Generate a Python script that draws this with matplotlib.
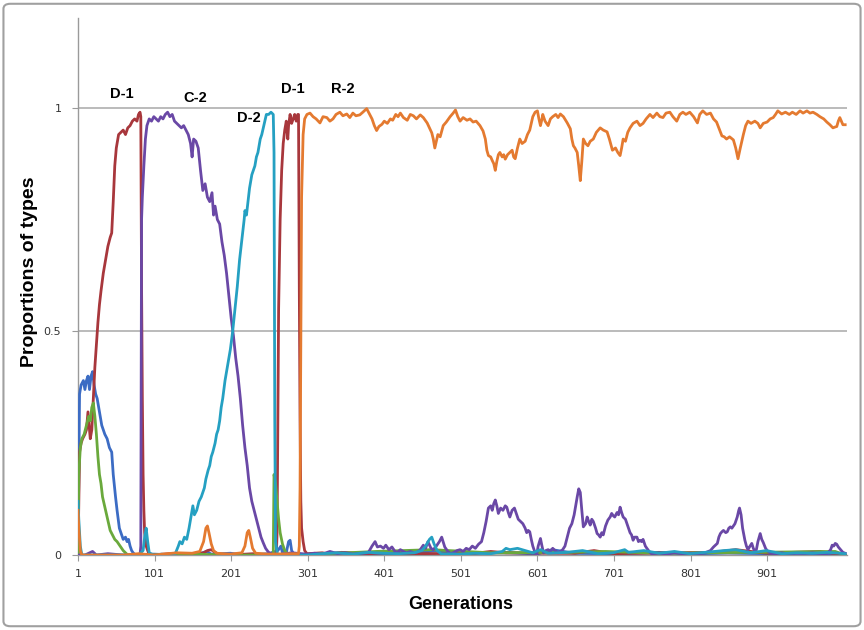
import matplotlib
matplotlib.use("Agg")
import matplotlib.pyplot as plt
from matplotlib.patches import FancyBboxPatch

# values, (generation, proportion) pairs per type
blue_gen = [1, 3, 5, 8, 10, 12, 14, 16, 18, 20, 22, 24, 26, 28, 30, 32, 34, 36, 39, 42, 45, 47,
            50, 52, 55, 57, 60, 63, 65, 67, 69, 71, 73, 76, 100, 130, 160, 169, 175, 200, 220, 250,
            262, 266, 268, 270, 273, 276, 278, 280, 283, 300, 340, 380, 440, 470, 500, 560, 600,
            620, 650, 700, 760, 800, 850, 900, 950, 1003]
blue_val = [0, 0.36, 0.38, 0.39, 0.37, 0.39, 0.40, 0.37, 0.40, 0.41, 0.38, 0.36, 0.35, 0.33, 0.31,
            0.29, 0.28, 0.27, 0.26, 0.24, 0.23, 0.18, 0.13, 0.10, 0.06, 0.05, 0.035, 0.04, 0.03,
            0.035, 0.02, 0.01, 0.005, 0, 0.002, 0, 0.003, 0.008, 0.002, 0.004, 0, 0.003, 0.01,
            0.02, 0.005, 0.01, 0.005, 0.03, 0.033, 0.01, 0.002, 0, 0.005, 0.002, 0.004, 0.01,
            0.003, 0.006, 0.002, 0.012, 0.004, 0.003, 0.006, 0.002, 0.005, 0.003, 0.004, 0]

red_gen = [1, 3, 5, 7, 10, 12, 14, 16, 17, 19, 21, 23, 25, 27, 29, 31, 34, 37, 40, 43, 45, 47, 49,
           51, 54, 57, 60, 63, 66, 69, 72, 75, 78, 80, 82, 83, 84, 85, 86, 87, 88, 90, 93, 96, 120,
           140, 165, 170, 175, 180, 185, 200, 230, 250, 260, 261, 262, 263, 265, 267, 269, 271,
           273, 275, 276, 278, 280, 282, 284, 286, 288, 289, 290, 291, 292, 293, 295, 297, 300,
           320, 330, 345, 380, 400, 440, 520, 540, 560, 650, 675, 700, 770, 830, 860, 900, 970, 1003]
red_val = [0, 0.23, 0.25, 0.26, 0.27, 0.28, 0.32, 0.28, 0.26, 0.28, 0.35, 0.42, 0.47, 0.52, 0.56,
           0.59, 0.63, 0.66, 0.69, 0.71, 0.72, 0.79, 0.87, 0.91, 0.94, 0.945, 0.95, 0.94, 0.955,
           0.96, 0.97, 0.975, 0.97, 0.985, 0.99, 0.98, 0.6, 0.35, 0.18, 0.1, 0.05, 0.02, 0.005, 0,
           0.003, 0, 0.005, 0.01, 0.012, 0.006, 0.002, 0, 0.003, 0, 0, 0.05, 0.3, 0.55, 0.75, 0.86,
           0.92, 0.95, 0.97, 0.93, 0.96, 0.985, 0.965, 0.975, 0.985, 0.97, 0.985, 0.985, 0.6, 0.3,
           0.12, 0.06, 0.03, 0.01, 0.003, 0.005, 0.002, 0.006, 0.003, 0.005, 0.003, 0.004, 0.008,
           0.005, 0.004, 0.01, 0.003, 0.005, 0.006, 0.012, 0.004, 0.008, 0]

green_gen = [1, 2, 4, 6, 9, 12, 15, 17, 19, 21, 23, 25, 27, 29, 31, 33, 35, 37, 39, 41, 43, 46, 49,
             52, 56, 60, 63, 66, 100, 150, 200, 256, 257, 259, 261, 263, 265, 268, 271, 275, 340,
             390, 463, 540, 640, 690, 760, 880, 990, 1003]
green_val = [0, 0.18, 0.24, 0.26, 0.27, 0.29, 0.31, 0.30, 0.33, 0.34, 0.31, 0.27, 0.22, 0.18, 0.16,
             0.13, 0.115, 0.10, 0.085, 0.07, 0.055, 0.045, 0.035, 0.03, 0.02, 0.01, 0.005, 0, 0,
             0.002, 0, 0, 0.18, 0.16, 0.12, 0.08, 0.05, 0.025, 0.01, 0, 0.004, 0.008, 0.012, 0.005,
             0.006, 0.008, 0.004, 0.006, 0.008, 0]

purple_gen = [1, 10, 20, 25, 40, 60, 82, 83, 84, 85, 87, 89, 91, 94, 97, 100, 103, 106, 109, 112,
              115, 118, 121, 124, 127, 130, 133, 136, 139, 142, 145, 148, 150, 152, 155, 158, 161,
              164, 167, 170, 173, 176, 178, 180, 183, 186, 189, 192, 195, 198, 201, 204, 207, 210,
              213, 216, 219, 222, 225, 228, 231, 234, 237, 240, 243, 246, 249, 252, 260, 280, 300,
              310, 320, 330, 340, 350, 360, 370, 380, 385, 389, 392, 396, 400, 403, 407, 411, 415,
              418, 422, 426, 430, 435, 440, 444, 448, 452, 455, 458, 462, 465, 469, 473, 476, 480,
              484, 488, 492, 496, 500, 504, 508, 512, 516, 520, 524, 528, 531, 534, 537, 540, 542,
              544, 546, 548, 550, 553, 556, 559, 561, 563, 565, 568, 571, 574, 576, 579, 582, 585,
              587, 589, 591, 593, 595, 597, 600, 602, 605, 607, 609, 612, 615, 618, 621, 624, 628,
              631, 634, 637, 640, 643, 646, 649, 651, 653, 655, 657, 659, 661, 664, 666, 668, 670,
              672, 674, 677, 679, 681, 683, 685, 687, 690, 693, 696, 698, 700, 702, 705, 707, 709,
              711, 713, 716, 718, 720, 722, 724, 726, 728, 731, 733, 735, 737, 739, 742, 744, 747,
              750, 760, 770, 780, 790, 800, 810, 820, 827, 831, 836, 838, 840, 842, 844, 847, 849,
              851, 853, 855, 857, 859, 862, 864, 865, 867, 869, 872, 874, 876, 878, 881, 883, 885,
              887, 889, 892, 894, 896, 899, 901, 905, 910, 920, 930, 940, 950, 960, 970, 980, 984,
              986, 988, 990, 992, 994, 997, 1000, 1003]
purple_val = [0, 0, 0.008, 0, 0.003, 0, 0, 0.02, 0.75, 0.80, 0.87, 0.93, 0.96, 0.975, 0.97, 0.98,
              0.975, 0.97, 0.98, 0.975, 0.985, 0.99, 0.98, 0.985, 0.97, 0.965, 0.96, 0.955, 0.96,
              0.95, 0.94, 0.92, 0.89, 0.93, 0.925, 0.91, 0.86, 0.815, 0.83, 0.80, 0.79, 0.81, 0.76,
              0.78, 0.75, 0.74, 0.70, 0.67, 0.63, 0.58, 0.53, 0.49, 0.44, 0.40, 0.35, 0.29, 0.24,
              0.20, 0.15, 0.12, 0.10, 0.08, 0.06, 0.04, 0.027, 0.015, 0.008, 0.003, 0, 0.005, 0.002,
              0.004, 0.002, 0.008, 0.003, 0.005, 0.002, 0.004, 0.005, 0.02, 0.03, 0.018, 0.02, 0.015,
              0.022, 0.012, 0.018, 0.008, 0.006, 0.012, 0.008, 0.005, 0.008, 0.005, 0.006, 0.012,
              0.022, 0.015, 0.03, 0.015, 0.012, 0.02, 0.03, 0.04, 0.018, 0.008, 0.003, 0.006, 0.01,
              0.012, 0.008, 0.015, 0.012, 0.02, 0.015, 0.024, 0.03, 0.05, 0.075, 0.105, 0.11, 0.10,
              0.115, 0.123, 0.11, 0.093, 0.105, 0.10, 0.11, 0.107, 0.095, 0.085, 0.10, 0.105, 0.09,
              0.08, 0.075, 0.07, 0.06, 0.05, 0.055, 0.052, 0.035, 0.02, 0.01, 0.0, 0.02, 0.037, 0.02,
              0.005, 0.01, 0.012, 0.008, 0.015, 0.01, 0.005, 0.008, 0.012, 0.02, 0.04, 0.06, 0.07,
              0.09, 0.11, 0.13, 0.148, 0.14, 0.10, 0.063, 0.07, 0.085, 0.075, 0.067, 0.08, 0.075,
              0.06, 0.048, 0.045, 0.04, 0.05, 0.045, 0.065, 0.078, 0.085, 0.093, 0.088, 0.085, 0.095,
              0.09, 0.107, 0.095, 0.085, 0.08, 0.07, 0.06, 0.05, 0.045, 0.033, 0.04, 0.04, 0.03,
              0.033, 0.03, 0.035, 0.02, 0.015, 0.008, 0.003, 0.004, 0.002, 0.005, 0.003, 0.004,
              0.002, 0.005, 0.01, 0.018, 0.026, 0.04, 0.048, 0.052, 0.055, 0.05, 0.052, 0.06, 0.063,
              0.06, 0.065, 0.07, 0.085, 0.1, 0.105, 0.09, 0.06, 0.033, 0.02, 0.012, 0.018, 0.026,
              0.015, 0.008, 0.012, 0.03, 0.048, 0.035, 0.028, 0.015, 0.01, 0.005, 0.003, 0.005,
              0.002, 0.004, 0.003, 0.005, 0.003, 0.004, 0.012, 0.022, 0.02, 0.026, 0.024, 0.018,
              0.012, 0.006, 0.004]

cyan_gen = [1, 2, 4, 6, 80, 86, 88, 90, 92, 94, 100, 110, 120, 128, 132, 134, 137, 140, 143, 146,
            149, 151, 153, 156, 159, 162, 164, 166, 168, 171, 173, 175, 177, 180, 182, 184, 186,
            188, 190, 193, 195, 197, 200, 203, 206, 209, 212, 214, 216, 218, 219, 221, 223, 225,
            228, 230, 232, 234, 236, 239, 241, 243, 245, 247, 250, 253, 256, 257, 258, 259, 261,
            263, 300, 320, 340, 360, 380, 400, 420, 440, 450, 455, 460, 463, 466, 470, 475, 500,
            520, 540, 555, 560, 565, 575, 585, 595, 605, 615, 640, 660, 680, 700, 715, 720, 740,
            760, 780, 800, 820, 845, 860, 880, 900, 920, 940, 960, 980, 1003]
cyan_val = [0.12, 0.08, 0.02, 0, 0, 0.01, 0.04, 0.06, 0.03, 0.005, 0, 0.002, 0, 0.003, 0.02, 0.03,
            0.025, 0.04, 0.035, 0.06, 0.09, 0.11, 0.09, 0.10, 0.12, 0.13, 0.14, 0.15, 0.17, 0.19,
            0.20, 0.22, 0.23, 0.25, 0.27, 0.28, 0.30, 0.33, 0.35, 0.39, 0.41, 0.43, 0.46, 0.50,
            0.55, 0.60, 0.66, 0.69, 0.72, 0.75, 0.77, 0.76, 0.79, 0.82, 0.85, 0.86, 0.87, 0.89,
            0.90, 0.93, 0.94, 0.955, 0.97, 0.985, 0.985, 0.99, 0.985, 0.9, 0.3, 0.03, 0.005, 0, 0,
            0.003, 0.005, 0.002, 0.006, 0.004, 0.003, 0.005, 0.01, 0.02, 0.035, 0.04, 0.025, 0.01,
            0.003, 0.002, 0.004, 0.003, 0.008, 0.015, 0.012, 0.015, 0.01, 0.005, 0.012, 0.004,
            0.006, 0.01, 0.003, 0.005, 0.012, 0.006, 0.01, 0.004, 0.008, 0.003, 0.006, 0.01, 0.012,
            0.005, 0.01, 0.003, 0.005, 0.004, 0.006, 0.003]

orange_gen = [1, 2, 4, 6, 60, 80, 100, 130, 150, 160, 165, 168, 170, 172, 175, 178, 182, 200, 215,
              219, 222, 224, 226, 229, 233, 250, 280, 289, 290, 291, 292, 293, 295, 297, 300, 304,
              308, 312, 317, 321, 326, 330, 334, 338, 343, 347, 352, 356, 360, 364, 369, 373, 378,
              382, 385, 388, 391, 394, 398, 401, 405, 409, 412, 416, 419, 422, 426, 431, 435, 439,
              443, 448, 452, 457, 460, 463, 465, 467, 469, 471, 474, 478, 482, 487, 491, 494, 497,
              500, 504, 509, 513, 517, 521, 526, 530, 533, 535, 537, 540, 542, 544, 546, 548, 550,
              552, 555, 557, 559, 562, 565, 568, 570, 572, 575, 578, 581, 585, 588, 591, 593, 595,
              598, 601, 603, 605, 607, 608, 611, 615, 618, 621, 625, 628, 631, 635, 640, 644, 646,
              648, 650, 653, 655, 657, 659, 661, 664, 667, 670, 674, 678, 683, 687, 692, 695, 699,
              703, 706, 709, 711, 713, 716, 719, 722, 726, 731, 735, 739, 743, 748, 752, 757, 761,
              765, 769, 774, 778, 783, 787, 791, 795, 800, 805, 810, 813, 817, 822, 827, 831, 835,
              838, 842, 845, 848, 852, 857, 860, 863, 866, 870, 873, 876, 880, 885, 889, 892, 896,
              901, 905, 909, 912, 915, 920, 925, 930, 934, 939, 944, 948, 953, 957, 961, 966, 970,
              975, 979, 983, 987, 990, 992, 994, 996, 998, 1000, 1003]
orange_val = [0.1, 0.06, 0.01, 0, 0, 0.003, 0, 0.005, 0.004, 0.008, 0.03, 0.06, 0.065, 0.05, 0.025,
              0.01, 0.004, 0.002, 0.005, 0.02, 0.05, 0.055, 0.04, 0.015, 0.004, 0.002, 0.003, 0.003,
              0.02, 0.15, 0.5, 0.8, 0.94, 0.975, 0.985, 0.988, 0.98, 0.975, 0.966, 0.98, 0.978, 0.97,
              0.975, 0.985, 0.99, 0.982, 0.986, 0.978, 0.988, 0.982, 0.984, 0.99, 0.998, 0.985,
              0.975, 0.96, 0.949, 0.958, 0.963, 0.97, 0.965, 0.975, 0.972, 0.985, 0.98, 0.988,
              0.978, 0.972, 0.985, 0.982, 0.975, 0.984, 0.978, 0.966, 0.955, 0.944, 0.93, 0.91,
              0.925, 0.94, 0.935, 0.96, 0.968, 0.98, 0.988, 0.995, 0.98, 0.97, 0.978, 0.972, 0.975,
              0.968, 0.97, 0.96, 0.948, 0.93, 0.905, 0.893, 0.89, 0.882, 0.875, 0.86, 0.88, 0.895,
              0.90, 0.89, 0.895, 0.885, 0.895, 0.90, 0.905, 0.89, 0.886, 0.91, 0.93, 0.92, 0.925,
              0.94, 0.95, 0.965, 0.98, 0.99, 0.993, 0.975, 0.96, 0.975, 0.985, 0.97, 0.96, 0.975,
              0.98, 0.985, 0.978, 0.986, 0.98, 0.966, 0.953, 0.93, 0.915, 0.91, 0.90, 0.87, 0.837,
              0.88, 0.93, 0.92, 0.915, 0.925, 0.93, 0.945, 0.955, 0.95, 0.946, 0.93, 0.905, 0.91,
              0.90, 0.893, 0.91, 0.93, 0.925, 0.945, 0.955, 0.965, 0.97, 0.96, 0.965, 0.975, 0.985,
              0.978, 0.988, 0.98, 0.978, 0.988, 0.99, 0.98, 0.97, 0.985, 0.99, 0.985, 0.99, 0.98,
              0.966, 0.985, 0.993, 0.985, 0.988, 0.975, 0.968, 0.955, 0.937, 0.935, 0.93, 0.935,
              0.928, 0.91, 0.886, 0.91, 0.94, 0.96, 0.97, 0.965, 0.97, 0.965, 0.955, 0.965, 0.968,
              0.975, 0.978, 0.985, 0.993, 0.986, 0.99, 0.985, 0.99, 0.985, 0.993, 0.988, 0.993,
              0.988, 0.99, 0.985, 0.98, 0.975, 0.968, 0.962, 0.955, 0.957, 0.958, 0.97, 0.978, 0.97,
              0.962, 0.962]

labels = ["D-1", "C-2", "D-2", "D-1", "R-2"]
label_gen = [58, 154, 224, 282, 347]
label_val = [1.031, 1.022, 0.978, 1.042, 1.042]

x_ticks = [1, 101, 201, 301, 401, 501, 601, 701, 801, 901]

fig = plt.figure(figsize=(8.64, 6.3), dpi=100)
ax = fig.add_axes([0.0903, 0.119, 0.8897, 0.852])

series = [
    (blue_gen, blue_val, "#3c6cc4"),
    (red_gen, red_val, "#a8373c"),
    (green_gen, green_val, "#6aa93c"),
    (purple_gen, purple_val, "#6a48a6"),
    (cyan_gen, cyan_val, "#25a0c2"),
    (orange_gen, orange_val, "#e47a30"),
]
for g, v, c in series:
    ax.plot(g, v, color=c, lw=2.0, solid_joinstyle="round", zorder=3)

for t, g, v in zip(labels, label_gen, label_val):
    ax.text(g, v, t, ha="center", va="center", fontsize=10.5, fontweight="bold",
            family="Liberation Sans", zorder=4)

ax.set_xlim(1, 1005)
ax.set_ylim(0, 1.2)
ax.set_yticks([0, 0.5, 1])
ax.set_yticklabels(["0", "0.5", "1"])
ax.set_xticks(x_ticks)
ax.set_xticklabels([str(t) for t in x_ticks])
ax.tick_params(axis="both", labelsize=8, colors="#333333", length=4, color="#9a9a9a")
ax.tick_params(axis="y", pad=8)
ax.tick_params(axis="x", pad=6)

ax.yaxis.grid(True, color="#a8a8a8", lw=1.1, zorder=1)
for s in ["top", "right"]:
    ax.spines[s].set_visible(False)
for s in ["left", "bottom"]:
    ax.spines[s].set_color("#9a9a9a")
    ax.spines[s].set_linewidth(1.0)

ax.set_xlabel("Generations", fontsize=13, fontweight="bold", family="Liberation Sans")
ax.set_ylabel("Proportions of types", fontsize=14, fontweight="bold", family="Liberation Sans")
ax.xaxis.set_label_coords(0.498, -0.076)
ax.yaxis.set_label_coords(-0.052, 0.527)

border = FancyBboxPatch((0.004, 0.006), 0.992, 0.988, boxstyle="round,pad=0,rounding_size=0.008",
                        transform=fig.transFigure, fill=False, edgecolor="#a0a0a0", lw=1.5)
fig.patches.append(border)

fig.savefig("out.png", dpi=100)
